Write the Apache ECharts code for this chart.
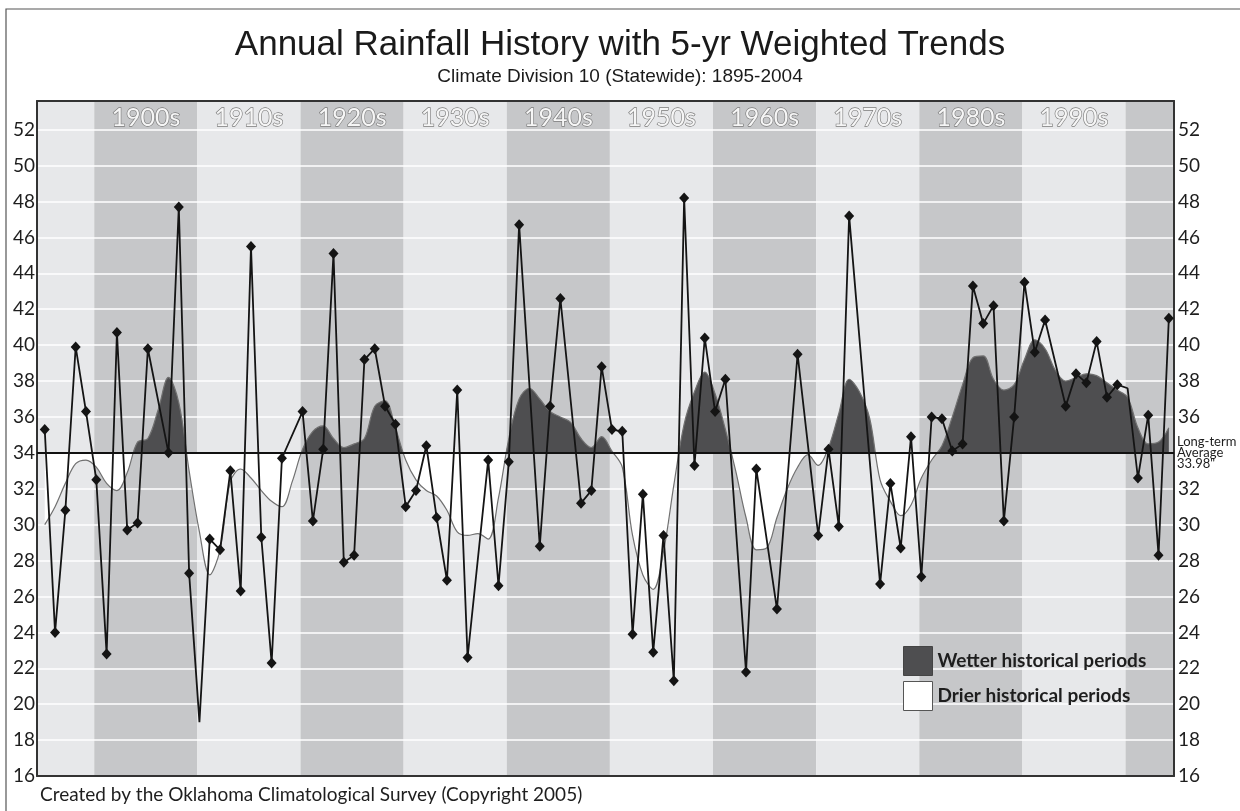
<!DOCTYPE html>
<html>
<head>
<meta charset="utf-8">
<title>Annual Rainfall History</title>
<script src="https://cdn.jsdelivr.net/npm/echarts@6/dist/echarts.min.js"></script>
<style>
html, body { margin: 0; padding: 0; background: #fff; }
#chart { width: 1240px; height: 811px; }
</style>
</head>
<body>
<div id="chart"></div>
<script>
// annual totals (inches); some years have no marker in the original
const rainYears = [
  1895, 1896, 1897, 1898, 1899, 1900, 1901, 1902, 1903, 1904, 1905,
  1907, 1908, 1909, 1910, 1911, 1912, 1913, 1914, 1915, 1916, 1917, 1918,
  1920, 1921, 1922, 1923, 1924, 1925, 1926, 1927, 1928, 1929, 1930, 1931, 1932, 1933, 1934, 1935, 1936,
  1938, 1939, 1940, 1941,
  1943, 1944, 1945,
  1947, 1948, 1949, 1950, 1951, 1952, 1953, 1954, 1955, 1956, 1957, 1958, 1959, 1960, 1961,
  1963, 1964, 1966, 1968,
  1970, 1971, 1972, 1973,
  1976, 1977, 1978, 1979, 1980, 1981, 1982, 1983, 1984, 1985, 1986, 1987, 1988, 1989, 1990, 1991, 1992,
  1994, 1995, 1996, 1997, 1998, 1999, 2000, 2001, 2002, 2003, 2004
]
const rainValues = [
  35.3, 24.0, 30.8, 39.9, 36.3, 32.5, 22.8, 40.7, 29.7, 30.1, 39.8,
  34.0, 47.7, 27.3, 19.0, 29.2, 28.6, 33.0, 26.3, 45.5, 29.3, 22.3, 33.7,
  36.3, 30.2, 34.2, 45.1, 27.9, 28.3, 39.2, 39.8, 36.6, 35.6, 31.0, 31.9, 34.4, 30.4, 26.9, 37.5, 22.6,
  33.6, 26.6, 33.5, 46.7,
  28.8, 36.6, 42.6,
  31.2, 31.9, 38.8, 35.3, 35.2, 23.9, 31.7, 22.9, 29.4, 21.3, 48.2, 33.3, 40.4, 36.3, 38.1,
  21.8, 33.1, 25.3, 39.5,
  29.4, 34.2, 29.9, 47.2,
  26.7, 32.3, 28.7, 34.9, 27.1, 36.0, 35.9, 34.1, 34.5, 43.3, 41.2, 42.2, 30.2, 36.0, 43.5, 39.6, 41.4,
  36.6, 38.4, 37.9, 40.2, 37.1, 37.8, 37.6, 32.6, 36.1, 28.3, 41.5
]
const noMarkerYears = [1910, 2000]

// 5-yr weighted trend, one value per year from 1895
const trendStartYear = 1895
const trendValues = [
  30.0, 31.0, 32.3, 33.4, 33.6,
  33.2, 32.3, 31.9, 32.9, 34.6, 34.8, 36.4, 38.2, 36.8, 33.0,
  29.6, 27.2, 28.6, 32.4, 33.1, 32.6, 31.9, 31.3, 31.0, 32.4,
  34.2, 35.2, 35.5, 34.8, 34.3, 34.5, 34.8, 36.6, 36.9, 35.4,
  33.6, 32.5, 31.9, 31.6, 30.8, 29.6, 29.4, 29.5, 29.2, 31.5,
  34.8, 37.0, 37.6, 37.0, 36.3, 36.0, 35.7, 34.8, 34.3, 34.9,
  34.1, 33.2, 29.4, 27.2, 26.4, 28.5, 32.2, 35.6, 37.4, 38.5,
  37.3, 35.3, 33.0, 30.4, 28.6, 28.7, 30.4, 32.0, 33.2, 33.9,
  33.3, 34.3, 36.2, 38.1, 37.4, 35.9, 32.5, 31.3, 30.5, 31.1,
  32.6, 33.6, 34.4, 36.0, 37.8, 39.3, 39.4, 38.1, 37.5, 37.8,
  39.2, 40.3, 39.8, 38.6, 38.0, 38.2, 38.4, 38.3, 37.9, 37.5,
  37.1, 35.4, 34.5, 34.6, 35.4
]

const longTermAvg = 33.98
const decadeStarts = [1890, 1900, 1910, 1920, 1930, 1940, 1950, 1960, 1970, 1980, 1990, 2000]
const decadeLabels = ['', '1900s', '1910s', '1920s', '1930s', '1940s', '1950s', '1960s', '1970s', '1980s', '1990s', '']
const yTicks = { min: 16, max: 53.6, interval: 2 }

const xMin = 1894.25
const xMax = 2004.5
const wetColor = '#4e4e50'
const dryColor = '#ffffff'
const lightBand = '#e7e8ea'
const darkBand = '#c6c7c9'

const chart = echarts.init(document.getElementById('chart'))

let rainData = rainYears.map((y, i) => {
  let item = { value: [y, rainValues[i]] }
  if (noMarkerYears.indexOf(y) >= 0) item.symbol = 'none'
  return item
})
let trendData = trendValues.map((v, i) => [trendStartYear + i, v])

let bands = decadeStarts.map((d, i) => {
  let dark = (d / 10) % 2 === 0
  return [
    { xAxis: Math.max(d - 0.2, xMin), name: decadeLabels[i], itemStyle: { color: dark ? darkBand : lightBand } },
    { xAxis: Math.min(d + 9.8, xMax) }
  ]
})

const axisFont = { fontSize: 19, color: '#1e1e1e', fontFamily: 'Lato' }
const frameLine = { show: true, onZero: false, lineStyle: { color: '#333', width: 2 } }

const options = {
  animation: false,
  backgroundColor: '#fff',
  title: [
    {
      text: 'Annual Rainfall History with 5-yr Weighted Trends',
      left: 'center', top: 28, padding: 0,
      textStyle: { fontSize: 35, fontWeight: 'normal', fontFamily: 'Liberation Sans', color: '#1a1a1a' }
    },
    {
      text: 'Climate Division 10 (Statewide): 1895-2004',
      left: 'center', top: 67, padding: 0,
      textStyle: { fontSize: 19, fontWeight: 'normal', fontFamily: 'Liberation Sans', color: '#1a1a1a' }
    },
    {
      text: 'Created by the Oklahoma Climatological Survey (Copyright 2005)',
      left: 40, top: 785, padding: 0,
      textStyle: { fontSize: 19, fontWeight: 'normal', fontFamily: 'Lato', color: '#1e1e1e' }
    }
  ],
  graphic: [
    {
      type: 'rect', silent: true, z: 0,
      shape: { x: 6, y: 9, width: 1260, height: 830 },
      style: { fill: 'none', stroke: '#555', lineWidth: 1.2 }
    }
  ],
  grid: { left: 37, right: 66, top: 101, bottom: 35 },
  legend: {
    orient: 'vertical', left: 903, top: 646, padding: 0,
    itemWidth: 29, itemHeight: 29, itemGap: 5,
    icon: 'rect', selectedMode: false,
    textStyle: { fontSize: 19, fontWeight: 'bold', color: '#1e1e1e', fontFamily: 'Lato' },
    data: [
      { name: 'Wetter historical periods', itemStyle: { color: wetColor, borderColor: '#444', borderWidth: 1 } },
      { name: 'Drier historical periods', itemStyle: { color: dryColor, borderColor: '#555', borderWidth: 1 } }
    ]
  },
  visualMap: {
    type: 'piecewise', show: false, seriesIndex: 1, dimension: 1,
    pieces: [
      { min: 0, max: longTermAvg, color: dryColor },
      { min: longTermAvg, max: 100, color: wetColor }
    ]
  },
  xAxis: [
    {
      type: 'value', min: xMin, max: xMax, position: 'bottom', z: 2,
      axisLine: frameLine, axisTick: { show: false }, axisLabel: { show: false }, splitLine: { show: false }
    },
    {
      type: 'value', min: xMin, max: xMax, position: 'top', z: 2,
      axisLine: frameLine, axisTick: { show: false }, axisLabel: { show: false }, splitLine: { show: false }
    }
  ],
  yAxis: [
    {
      type: 'value', min: yTicks.min, max: yTicks.max, interval: yTicks.interval, position: 'left', z: 2,
      axisLine: frameLine, axisTick: { show: false },
      axisLabel: Object.assign({ showMaxLabel: false, margin: 2 }, axisFont),
      splitLine: { show: true, lineStyle: { color: '#ffffff', width: 1.5 } }
    },
    {
      type: 'value', min: yTicks.min, max: yTicks.max, interval: yTicks.interval, position: 'right', z: 2,
      axisLine: frameLine, axisTick: { show: false },
      axisLabel: Object.assign({
        showMaxLabel: false, margin: 4,
        formatter: v => (v === 34 ? '' : v)
      }, axisFont),
      splitLine: { show: false }
    }
  ],
  series: [
    {
      name: 'decades', type: 'line', data: [], silent: true,
      markArea: {
        silent: true, z: 1,
        label: {
          show: true, position: 'insideTop', distance: 4,
          fontSize: 25, fontFamily: 'Lato', color: '#f6f6f6',
          textBorderColor: '#7c7c7c', textBorderWidth: 1.3
        },
        data: bands
      }
    },
    {
      name: 'trendFill', type: 'line', data: trendData, smooth: 0.35, symbol: 'none',
      silent: true, z: 3,
      lineStyle: { width: 0 },
      areaStyle: { origin: longTermAvg, opacity: 1 }
    },
    {
      name: 'trend', type: 'line', data: trendData, smooth: 0.35, symbol: 'none',
      silent: true, z: 4,
      lineStyle: { color: '#707070', width: 1.2 }
    },
    {
      name: 'rainfall', type: 'line', data: rainData, z: 6,
      symbol: 'diamond', symbolSize: [10, 11],
      lineStyle: { color: '#141414', width: 1.8 },
      itemStyle: { color: '#141414' },
      markLine: {
        silent: true, symbol: 'none', z: 5,
        lineStyle: { color: '#111', width: 2, type: 'solid' },
        label: {
          position: 'end', distance: 3,
          formatter: 'Long-term\nAverage\n33.98"',
          fontSize: 13, lineHeight: 11, color: '#1e1e1e', fontFamily: 'Lato'
        },
        data: [{ yAxis: longTermAvg }]
      }
    },
    { name: 'Wetter historical periods', type: 'line', data: [], itemStyle: { color: wetColor } },
    { name: 'Drier historical periods', type: 'line', data: [], itemStyle: { color: dryColor } }
  ]
}

chart.setOption(options)
</script>
</body>
</html>
